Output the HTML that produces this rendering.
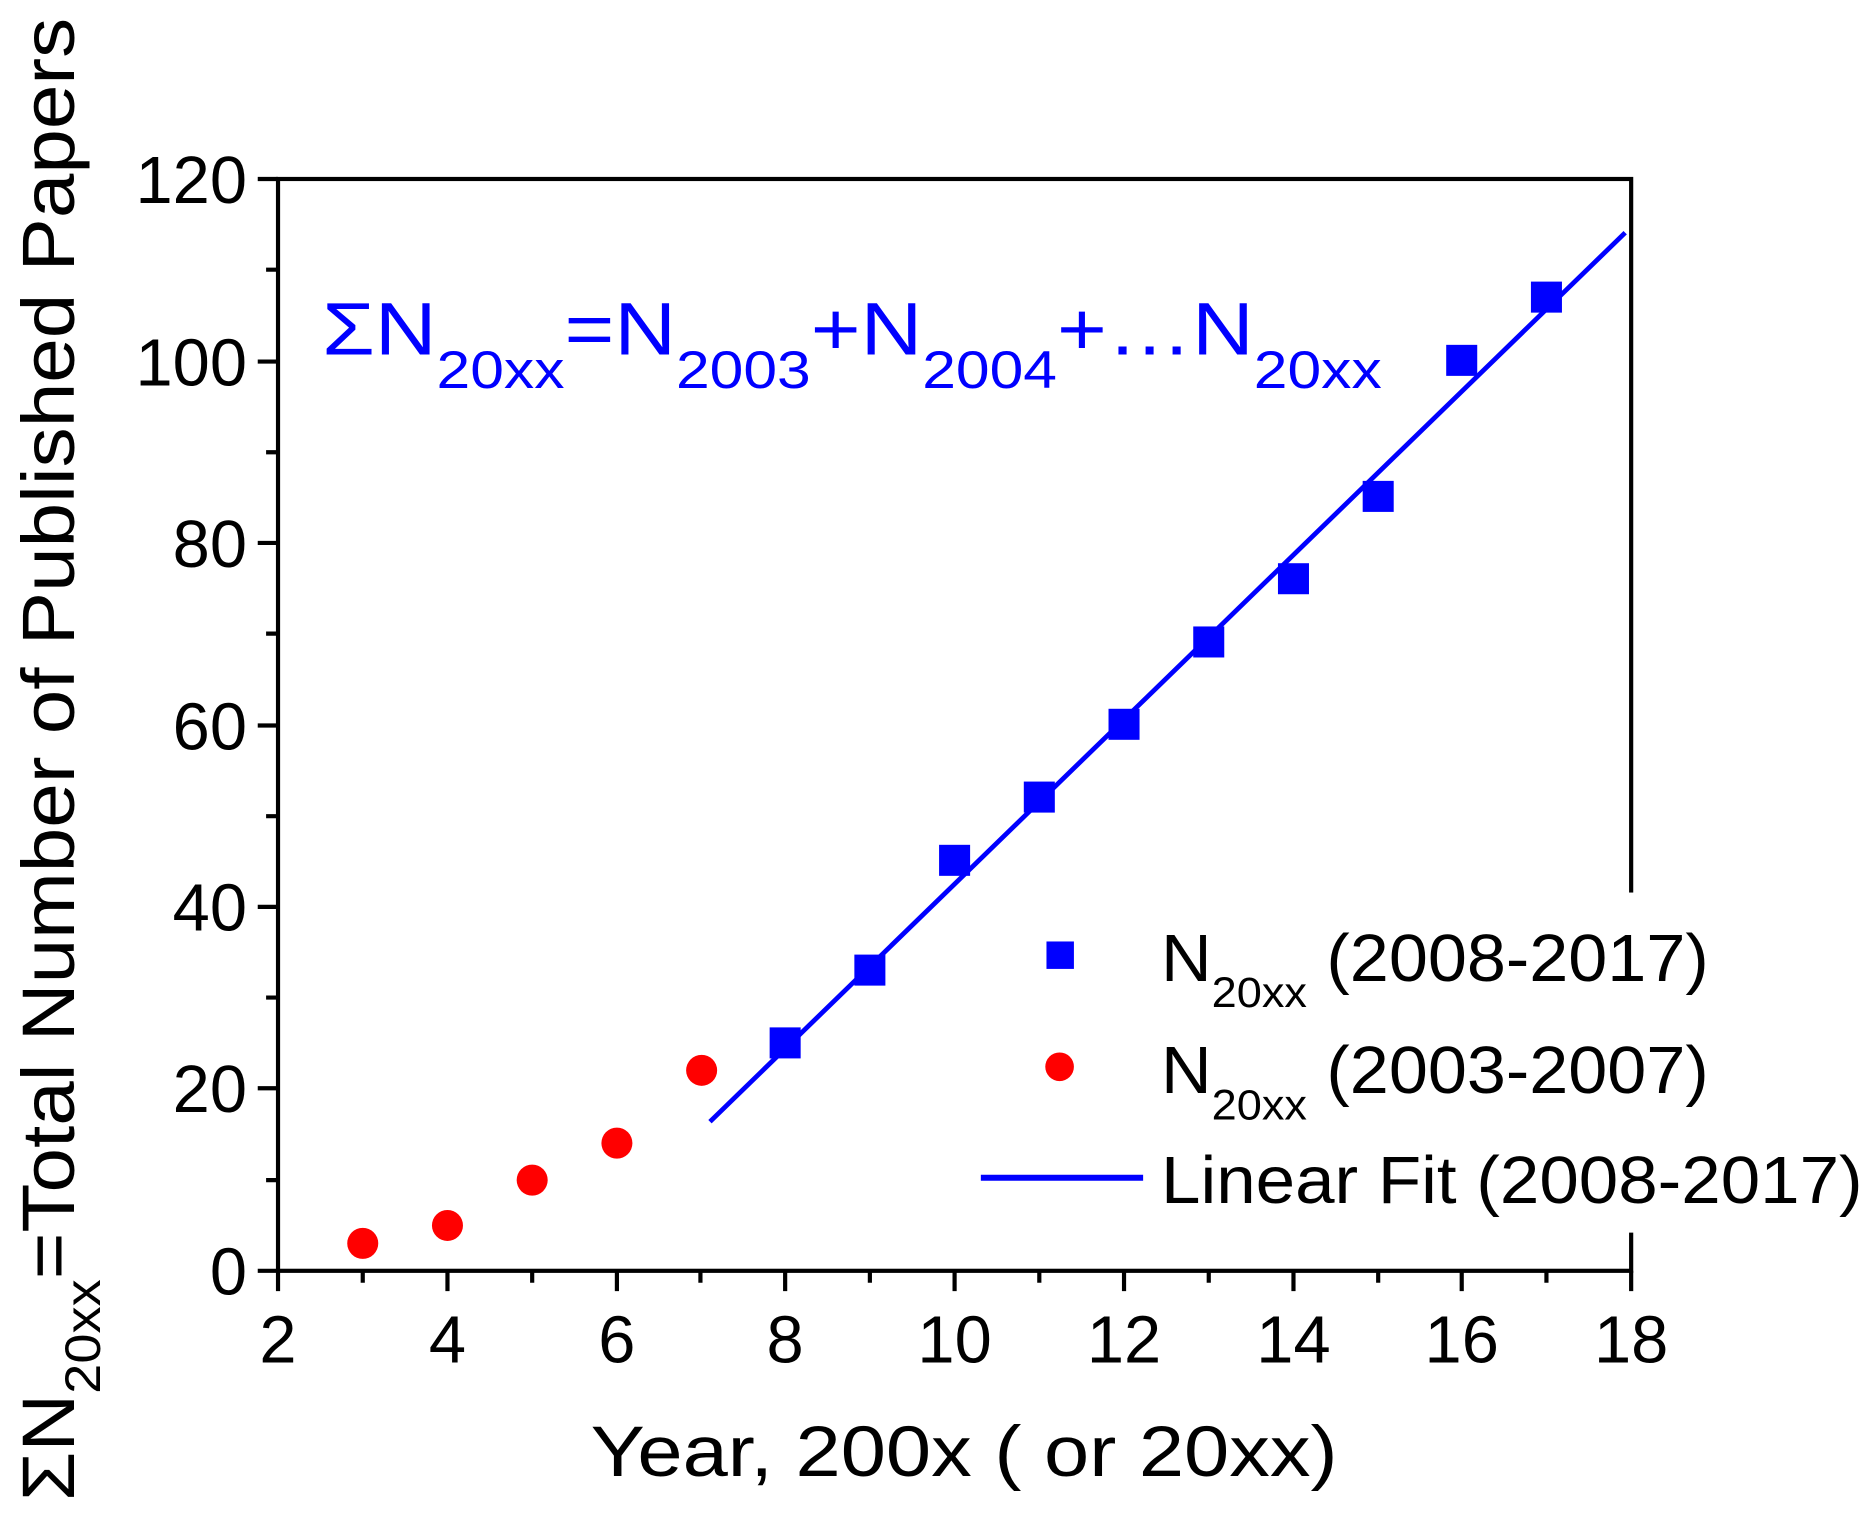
<!DOCTYPE html>
<html><head><meta charset="utf-8"><style>html,body{margin:0;padding:0;background:#fff}svg{display:block}</style></head>
<body>
<svg width="1871" height="1519" viewBox="0 0 1568 1273" preserveAspectRatio="none" xmlns="http://www.w3.org/2000/svg" font-family="Liberation Sans, Arial, sans-serif">
<rect width="1568" height="1273" fill="#fff"/>
<g stroke="#000" stroke-width="3.5" fill="none">
<rect x="233" y="150" width="1134" height="915"/>
<path d="M233 1065v17M304 1065v10M375 1065v17M446 1065v10M517 1065v17M587 1065v10M658 1065v17M729 1065v10M800 1065v17M871 1065v10M942 1065v17M1013 1065v10M1084 1065v17M1155 1065v10M1225 1065v17M1296 1065v10M1367 1065v17"/>
<path d="M233 1065h-17M233 989h-10M233 912h-17M233 836h-10M233 760h-17M233 684h-10M233 608h-17M233 531h-10M233 455h-17M233 379h-10M233 303h-17M233 226h-10M233 150h-17"/>
</g>
<rect x="1358" y="748" width="20" height="285" fill="#fff"/>
<g font-size="56" fill="#000" text-anchor="end">
<text x="207" y="1085">0</text><text x="207" y="932">20</text><text x="207" y="780">40</text><text x="207" y="628">60</text><text x="207" y="475">80</text><text x="207" y="323">100</text><text x="207" y="170">120</text>
</g>
<g font-size="56" fill="#000" text-anchor="middle">
<text x="233" y="1142">2</text><text x="375" y="1142">4</text><text x="517" y="1142">6</text><text x="658" y="1142">8</text><text x="800" y="1142">10</text><text x="942" y="1142">12</text><text x="1084" y="1142">14</text><text x="1225" y="1142">16</text><text x="1367" y="1142">18</text>
</g>
<text x="808" y="1237" font-size="60" text-anchor="middle" textLength="626" lengthAdjust="spacingAndGlyphs">Year, 200x ( or 20xx)</text>
<text transform="translate(62,1258) rotate(-90)" font-size="62" textLength="1243" lengthAdjust="spacingAndGlyphs"><tspan>ΣN</tspan><tspan font-size="42" dy="22">20xx</tspan><tspan dy="-22">=Total Number of Published Papers</tspan></text>
<text x="270" y="297" font-size="62" fill="#0000ff" textLength="888" lengthAdjust="spacingAndGlyphs"><tspan>ΣN</tspan><tspan font-size="44" dy="28">20xx</tspan><tspan dy="-28">=N</tspan><tspan font-size="44" dy="28">2003</tspan><tspan dy="-28">+N</tspan><tspan font-size="44" dy="28">2004</tspan><tspan dy="-28">+…N</tspan><tspan font-size="44" dy="28">20xx</tspan></text>
<line x1="595" y1="940" x2="1362" y2="195" stroke="#0000ff" stroke-width="4"/>
<g fill="#0000ff">
<rect x="645" y="861" width="26" height="26"/><rect x="716" y="800" width="26" height="26"/><rect x="787" y="708" width="26" height="26"/><rect x="858" y="655" width="26" height="26"/><rect x="929" y="594" width="26" height="26"/><rect x="1000" y="525" width="26" height="26"/><rect x="1071" y="472" width="26" height="26"/><rect x="1142" y="403" width="26" height="26"/><rect x="1212" y="289" width="26" height="26"/><rect x="1283" y="236" width="26" height="26"/>
</g>
<g fill="#ff0000">
<circle cx="304" cy="1042" r="13"/><circle cx="375" cy="1027" r="13"/><circle cx="446" cy="989" r="13"/><circle cx="517" cy="958" r="13"/><circle cx="588" cy="897" r="13"/>
</g>
<rect x="877" y="789" width="23" height="23" fill="#0000ff"/>
<circle cx="888" cy="894" r="12" fill="#ff0000"/>
<line x1="822" y1="987" x2="958" y2="987" stroke="#0000ff" stroke-width="5"/>
<g font-size="56" fill="#000">
<text x="973" y="822" textLength="459" lengthAdjust="spacingAndGlyphs"><tspan>N</tspan><tspan font-size="36" dy="22">20xx</tspan><tspan dy="-22"> (2008-2017)</tspan></text>
<text x="973" y="916" textLength="459" lengthAdjust="spacingAndGlyphs"><tspan>N</tspan><tspan font-size="36" dy="22">20xx</tspan><tspan dy="-22"> (2003-2007)</tspan></text>
<text x="973" y="1008" textLength="588" lengthAdjust="spacingAndGlyphs">Linear Fit (2008-2017)</text>
</g>
</svg>
</body></html>
